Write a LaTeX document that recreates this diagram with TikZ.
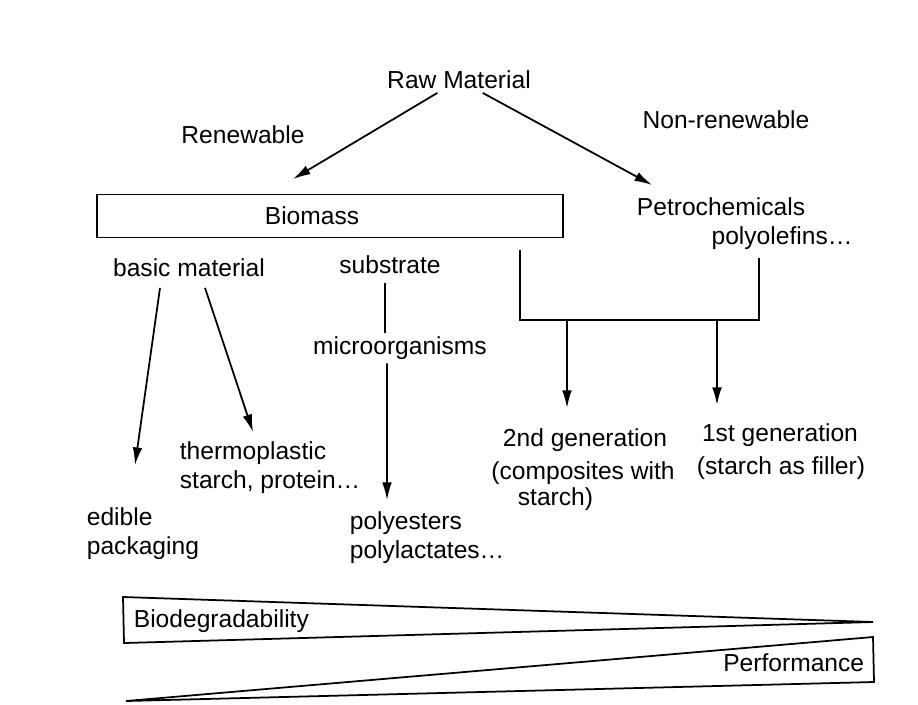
\documentclass[tikz,border=0pt]{standalone}
\usepackage{fontspec}
\setmainfont{Liberation Sans}
\usepackage{tikz}
\usetikzlibrary{positioning,arrows.meta}

\begin{document}
\begin{tikzpicture}[
  x=0.02cm, y=-0.02cm,
  lbl/.style={font=\fontsize{14}{16.5}\selectfont, inner sep=2pt},
  blk/.style={lbl, align=left},
  box/.style={draw, line width=1pt, lbl, minimum width=9.32cm, minimum height=0.86cm},
  arr/.style={->, line width=1pt, >={Latex[length=10pt,width=5.5pt]}},
  ln/.style={line width=1pt},
  wedge/.style={line width=1pt, line join=miter}
]
  \useasboundingbox (0,0) rectangle (918,704);

  % Top level
  \node[lbl] (raw) at (459,80) {Raw Material};
  \node[lbl] (renew) at (243,135) {Renewable};
  \node[lbl] (nonrenew) at (726,120) {Non-renewable};

  % Biomass and petrochemicals
  \node[box] (biomass) at (330,216) {Biomass\hspace*{0.72cm}};
  \node[lbl] (petro) at (721,207) {Petrochemicals};
  \node[lbl] (polyol) at (782,238) {polyolefins\dots};

  \coordinate (bioin) at (293,179);
  \coordinate (petroin) at (652,185);
  \draw[arr] (raw) -- (bioin);
  \draw[arr] (raw) -- (petroin);

  % Biomass branches
  \node[lbl] (basic) at (189,268) {basic material};
  \node[lbl] (substr) at (390,265) {substrate};
  \node[lbl] (micro) at (400,348) {microorganisms};

  \node[blk, anchor=west] (thermo) at (176,468) {thermoplastic\\starch, protein\dots};
  \node[blk, anchor=west] (edible) at (83,534) {edible\\packaging};
  \node[blk, anchor=west] (polyest) at (346,538) {polyesters\\polylactates\dots};

  \coordinate (edtip) at (135,465);
  \coordinate (thtip) at (253,432);
  \coordinate (potip) at (387,500);
  \draw[arr] ([xshift=-0.58cm,yshift=-0.14cm]basic.south) -- (edtip);
  \draw[arr] ([xshift=0.32cm,yshift=-0.14cm]basic.south) -- (thtip);
  \draw[ln] ([xshift=-0.1cm,yshift=-0.1cm]substr.south) -- ([xshift=-0.1cm]substr.south |- micro.north);
  \draw[arr] ([xshift=-0.26cm]micro.south) -- (potip);

  % Composite branch
  \coordinate (brl) at (520,250);
  \coordinate (brr) at (759,258);
  \coordinate (brm) at (640,320);
  \draw[ln] (brl) |- (brm) -| (brr);

  \node[lbl] (gen2) at (585,440) {2nd generation};
  \node[lbl] (comp) at (583,473) {(composites with};
  \node[lbl, anchor=west] (comp2) at (514,499) {starch)};
  \node[lbl] (gen1) at (780,435) {1st generation};
  \node[lbl] (filler) at (781,468) {(starch as filler)};

  \coordinate (g2tip) at (567,408);
  \coordinate (g1tip) at (717,405);
  \draw[arr] (brm -| g2tip) -- (g2tip);
  \draw[arr] (brm -| g1tip) -- (g1tip);

  % Trade-off wedges
  \draw[wedge] (123,597) -- (873,622) -- (124,643) -- cycle;
  \draw[wedge] (126,701) -- (873,637) -- (874,682) -- cycle;
  \node[lbl, anchor=west] (biodeg) at (130,621) {Biodegradability};
  \node[lbl, anchor=east] (perf) at (868,663) {Performance};
\end{tikzpicture}
\end{document}
